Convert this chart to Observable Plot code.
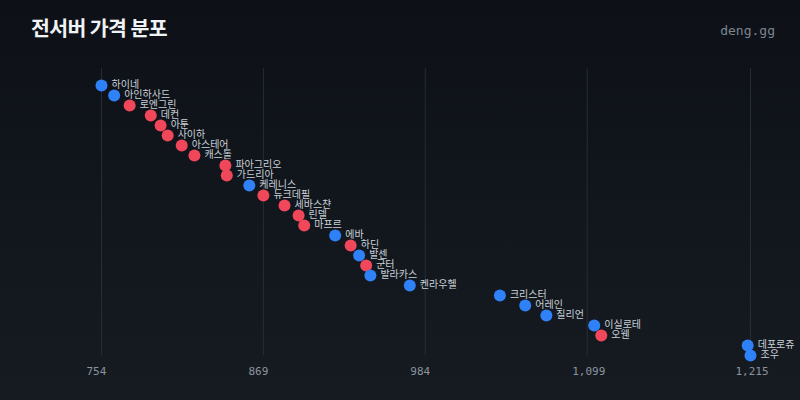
<!DOCTYPE html>
<html>
<head>
<meta charset="utf-8">
<script src="https://cdn.jsdelivr.net/npm/d3@7"></script>
<script src="https://cdn.jsdelivr.net/npm/@observablehq/plot@0.6"></script>
<style>
  html, body { margin: 0; padding: 0; }
  body { width: 800px; height: 400px; overflow: hidden;
    background: linear-gradient(180deg, #0d1117 0%, #161b22 100%); }
  #wrap { position: relative; width: 800px; height: 400px; }
  #title { position: absolute; left: 31px; top: 12px; font-family: "Noto Sans CJK KR", sans-serif;
    font-weight: 700; font-size: 20.5px; line-height: 30px; color: #f0f3f6; letter-spacing: -0.6px; }
  #brand { position: absolute; right: 25px; top: 21px; font-family: "DejaVu Sans Mono", monospace;
    font-size: 13px; line-height: 20px; color: #7d8590; }
  #chart { position: absolute; left: 0; top: 0; }
</style>
</head>
<body>
<div id="wrap">
  <div id="chart"></div>
  <div id="title">전서버 가격 분포</div>
  <div id="brand">deng.gg</div>
</div>
<script>
const servers = ["하이네","아인하사드","로엔그린","데컨","아툰","사이하","아스테어","캐스톨","파아그리오","가드리아","케레니스","듀크데필","세바스챤","린델","마프르","에바","하딘","발센","군터","발라카스","켄라우헬","크리스터","어레인","질리언","이실로테","오웬","데포로쥬","조우"];
const prices = [754,763,774,789,796,801,811,820,842,843,859,869,884,894,898,920,931,937,942,945,973,1037,1055,1070,1104,1109,1213,1215];
const groups = ["B","B","R","R","R","R","R","R","R","R","B","R","R","R","R","B","R","B","R","B","B","B","B","B","B","R","B","B"];
const tickValues = [754, 869, 984, 1099, 1215];

const data = servers.map((name, i) => ({name, price: prices[i], group: groups[i]}));

const chart = Plot.plot({
  width: 800,
  height: 400,
  marginLeft: 101,
  marginRight: 50,
  marginTop: 68,
  marginBottom: 45,
  style: {background: "transparent", color: "#8b949e"},
  x: {domain: [754, 1215]},
  y: {type: "point", domain: servers, range: [85, 355], padding: 0, axis: null},
  color: {domain: ["B", "R"], range: ["#2f81f7", "#f0475a"]},
  marks: [
    Plot.gridX(tickValues, {stroke: "#30363d", strokeOpacity: 0.7}),
    Plot.axisX(tickValues, {
      tickSize: 0, tickPadding: 12, textAnchor: "start", dx: -15,
      tickFormat: d3.format(","), fill: "#8b949e",
      fontSize: 11, fontFamily: "DejaVu Sans Mono, monospace", label: null
    }),
    Plot.dot(data, {x: "price", y: "name", r: 6, fill: "group"}),
    Plot.text(data, {x: "price", y: "name", text: "name", dx: 10, dy: -1, textAnchor: "start",
      fill: "#c9d1d9", fontSize: 10, fontFamily: "Noto Sans CJK KR, sans-serif"})
  ]
});
document.getElementById("chart").appendChild(chart);
</script>
</body>
</html>
